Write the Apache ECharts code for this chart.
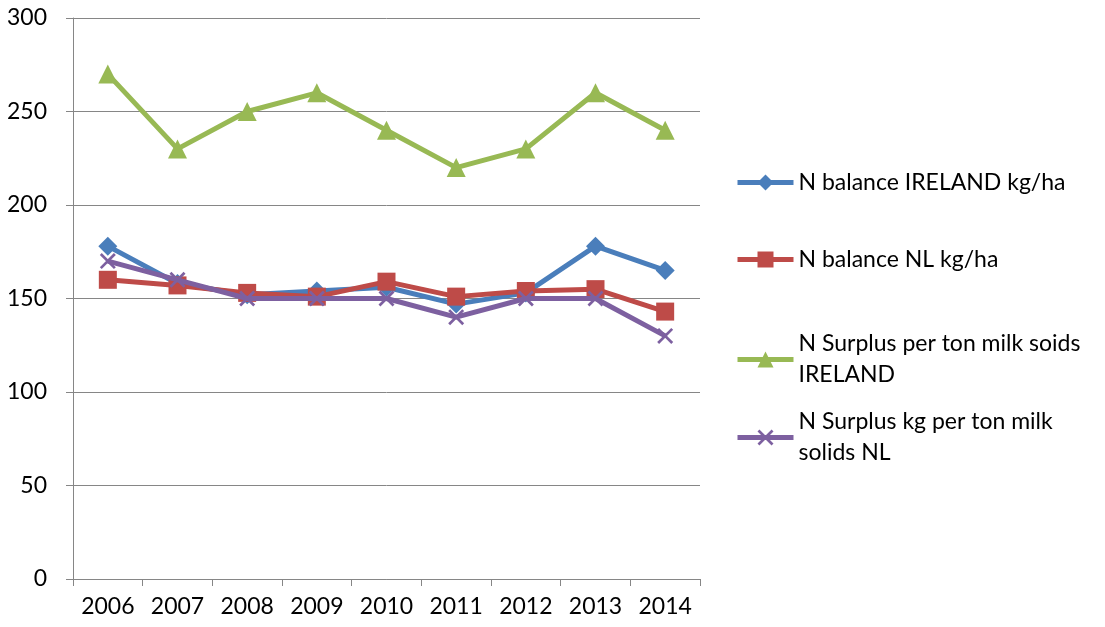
<!DOCTYPE html>
<html><head><meta charset="utf-8">
<script src="https://cdn.jsdelivr.net/npm/echarts@6/dist/echarts.min.js"></script>
<style>html,body{margin:0;padding:0;background:#fff}#c{width:1105px;height:627px}</style>
</head><body><div id="c"></div>
<script>
const years = ['2006','2007','2008','2009','2010','2011','2012','2013','2014'];
const nBalanceIreland = [178, 158, 152, 154, 156, 147, 153, 178, 165];
const nBalanceNL = [160, 157, 153, 151, 159, 151, 154, 155, 143];
const nSurplusIreland = [270, 230, 250, 260, 240, 220, 230, 260, 240];
const nSurplusNL = [170, 160, 150, 150, 150, 140, 150, 150, 130];
const seriesNames = ['N balance IRELAND kg/ha', 'N balance NL kg/ha', 'N Surplus per ton milk soids\nIRELAND', 'N Surplus kg per ton milk\nsolids NL'];

const FONT = 'Lato';
const FS = 23;
const xPath = 'path://M0,1.2L1.2,0L10,8.8L8.8,10Z M8.8,0L10,1.2L1.2,10L0,8.8Z';
const chart = echarts.init(document.getElementById('c'));
function mkLegend(name, top, multi) {
  return {
    data: [name], orient: 'vertical', left: 730, top: top,
    itemWidth: 56, itemHeight: 20, itemGap: 0,
    lineStyle: {width: 5},
    textStyle: {fontFamily: FONT, fontSize: FS, color: '#000', lineHeight: 31, padding: multi ? [31,0,0,0] : 0}
  };
}
chart.setOption({
  animation: false,
  grid: {left: 73, right: 405, top: 18, bottom: 48},
  legend: [mkLegend(seriesNames[0], 162, false), mkLegend(seriesNames[1], 239, false),
           mkLegend(seriesNames[2], 308, true), mkLegend(seriesNames[3], 386, true)],
  xAxis: {
    type: 'category', data: years, boundaryGap: true,
    axisLine: {lineStyle: {color: '#868686', width: 1}},
    axisTick: {show: true, length: 7, lineStyle: {color: '#868686'}},
    axisLabel: {fontFamily: FONT, fontSize: FS, color: '#000', margin: 16}
  },
  yAxis: {
    type: 'value', min: 0, max: 300, interval: 50,
    axisLine: {show: true, lineStyle: {color: '#868686', width: 1}},
    axisTick: {show: true, length: 7, lineStyle: {color: '#868686'}},
    splitLine: {lineStyle: {color: '#868686', width: 1}},
    axisLabel: {fontFamily: FONT, fontSize: FS, color: '#000', margin: 26}
  },
  series: [
    {name: seriesNames[0], type: 'line', data: nBalanceIreland, symbol: 'diamond', symbolSize: 19,
     lineStyle: {width: 5, color: '#4a7ebb'}, itemStyle: {color: '#4a7ebb'}, z: 2},
    {name: seriesNames[1], type: 'line', data: nBalanceNL, symbol: 'rect', symbolSize: 18,
     lineStyle: {width: 5, color: '#be4b48'}, itemStyle: {color: '#be4b48'}, z: 3},
    {name: seriesNames[2], type: 'line', data: nSurplusIreland, symbol: 'triangle', symbolSize: 19,
     lineStyle: {width: 5, color: '#98b954'}, itemStyle: {color: '#98b954'}, z: 4},
    {name: seriesNames[3], type: 'line', data: nSurplusNL, symbol: xPath, symbolSize: 16,
     lineStyle: {width: 5, color: '#7d60a0'}, itemStyle: {color: '#7d60a0'}, z: 5}
  ]
});
</script></body></html>
